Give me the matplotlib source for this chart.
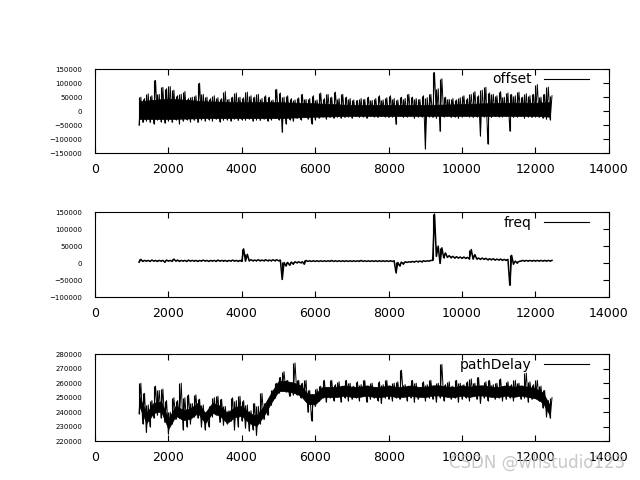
import numpy as np
import matplotlib
matplotlib.use("Agg")
import matplotlib.pyplot as plt

# samples every 100 units from 1200 to 12400, min / max of each step (in thousands)
x_start, x_step = 1200, 100

offset_hi = [50, 45, 62, 55, 110, 60, 85, 80, 88, 75,
             55, 60, 70, 45, 50, 55, 100, 60, 50, 45,
             55, 48, 45, 70, 42, 50, 65, 50, 48, 68,
             55, 50, 60, 45, 55, 50, 40, 78, 65, 50,
             55, 45, 40, 48, 60, 42, 45, 55, 40, 65,
             45, 60, 50, 68, 45, 60, 50, 45, 40, 38,
             45, 42, 50, 38, 45, 55, 40, 48, 55, 45,
             40, 50, 45, 60, 50, 45, 42, 55, 48, 60,
             138, 80, 116, 50, 42, 45, 40, 48, 55, 45,
             60, 70, 55, 75, 85, 65, 60, 55, 70, 50,
             65, 60, 55, 68, 50, 62, 55, 60, 95, 50,
             60, 86, 55]
offset_lo = [-50, -40, -35, -40, -45, -30, -38, -42, -35, -40,
             -30, -45, -35, -30, -38, -32, -40, -30, -35, -30,
             -35, -28, -38, -32, -30, -35, -28, -33, -30, -32,
             -28, -35, -30, -33, -28, -35, -30, -25, -30, -75,
             -45, -30, -35, -25, -30, -22, -28, -45, -30, -25,
             -20, -28, -22, -25, -20, -25, -22, -20, -25, -18,
             -22, -20, -25, -18, -20, -22, -18, -20, -22, -20,
             -47, -18, -22, -20, -18, -25, -20, -20, -134, -20,
             -22, -25, -72, -20, -18, -22, -20, -25, -20, -18,
             -20, -22, -20, -88, -20, -117, -22, -18, -20, -20,
             -18, -71, -22, -20, -18, -25, -20, -22, -20, -22,
             -25, -28, -30]
# solid middle of the offset band
offset_core_x = [1200, 2000, 3000, 4000, 5000, 6000, 7000, 8000, 9000,
                 10000, 11000, 12000, 12400]
offset_core_hi = [35, 45, 35, 32, 32, 28, 22, 22, 22, 25, 30, 30, 32]
offset_core_lo = [-28, -28, -25, -25, -25, -20, -17, -17, -17, -17, -17, -17, -20]

freq_hi = [11, 8, 8, 9, 8, 8, 8, 9, 8, 12,
           9, 8, 8, 9, 8, 8, 8, 9, 8, 8,
           8, 9, 8, 8, 8, 9, 8, 8, 42, 26,
           10, 9, 10, 9, 10, 9, 10, 10, 9, 2,
           2, 3, 4, 4, 4, 8, 7, 7, 7, 7,
           7, 7, 8, 7, 7, 7, 7, 7, 7, 7,
           8, 7, 7, 7, 7, 7, 7, 7, 7, 7,
           2, 3, 4, 4, 5, 6, 6, 7, 7, 8,
           144, 50, 45, 30, 22, 20, 19, 18, 18, 17,
           40, 25, 15, 15, 14, 13, 13, 12, 12, 11,
           11, 23, 6, 5, 8, 8, 8, 8, 8, 8,
           8, 8, 8]
freq_lo = [3, 5, 6, 5, 6, 5, 6, 3, 6, 5,
           6, 5, 6, 5, 6, 6, 5, 6, 6, 5,
           6, 5, 6, 6, 5, 6, 6, 5, 5, 6,
           7, 7, 7, 7, 7, 7, 7, 7, 7, -48,
           -8, -6, -3, 1, 1, -3, 5, 5, 5, 5,
           5, 5, 5, 5, 5, 5, 5, 5, 5, 5,
           5, 5, 5, 5, 5, 5, 5, 5, 5, 5,
           -28, -8, -3, 2, 3, 3, 4, 4, 5, 6,
           8, 20, -1, 16, 17, 16, 15, 15, 14, 14,
           12, 12, 12, 11, 11, 10, 10, 9, 9, 8,
           8, -65, -3, 0, 6, 6, 6, 6, 6, 6,
           6, 6, 6]

delay_hi = [260, 253, 245, 248, 258, 255, 256, 248, 240, 250,
            248, 260, 250, 252, 246, 252, 249, 245, 240, 244,
            250, 251, 249, 244, 241, 250, 248, 251, 248, 245,
            241, 246, 244, 253, 246, 248, 255, 260, 264, 268,
            262, 260, 274, 262, 260, 262, 255, 250, 256, 258,
            262, 256, 262, 259, 261, 258, 262, 260, 258, 261,
            259, 262, 258, 260, 257, 261, 259, 262, 258, 260,
            261, 269, 259, 258, 262, 260, 257, 261, 259, 262,
            258, 260, 273, 259, 261, 258, 262, 260, 259, 261,
            263, 260, 264, 258, 261, 262, 259, 260, 263, 258,
            261, 259, 262, 260, 258, 267, 261, 259, 262, 258,
            255, 248, 250]
delay_lo = [239, 232, 226, 230, 236, 238, 236, 233, 225, 232,
            235, 236, 228, 230, 232, 237, 236, 230, 228, 230,
            237, 238, 233, 231, 232, 234, 228, 230, 234, 229,
            227, 228, 224, 232, 235, 238, 245, 250, 253, 255,
            254, 251, 252, 252, 250, 251, 240, 234, 244, 248,
            250, 247, 250, 248, 251, 247, 250, 248, 249, 250,
            248, 251, 247, 249, 250, 248, 246, 250, 249, 248,
            250, 249, 251, 248, 250, 247, 249, 251, 248, 250,
            249, 247, 250, 248, 251, 249, 250, 247, 249, 250,
            248, 251, 249, 246, 250, 248, 251, 249, 250, 248,
            249, 250, 248, 251, 249, 250, 247, 249, 250, 248,
            243, 237, 236]
# running level of pathDelay, every 200 units from 1200
delay_mid = [248, 236, 243, 244, 232, 241, 238, 239, 243, 236,
             243, 241, 236, 240, 241, 236, 234, 241, 250, 258,
             258, 257, 255, 249, 249, 254, 254, 254, 255, 254,
             254, 255, 254, 254, 255, 254, 254, 255, 254, 254,
             255, 255, 254, 254, 255, 254, 255, 255, 254, 254,
             255, 254, 255, 254, 253, 250, 241]
delay_band = 3500  # half thickness of the solid part

series = [("offset", offset_hi, offset_lo, (-150000, 150000), 50000, 0.7),
          ("freq", freq_hi, freq_lo, (-100000, 150000), 50000, 1.1),
          ("pathDelay", delay_hi, delay_lo, (220000, 280000), 10000, 0.7)]

# axes boxes in figure fractions (gnuplot-ish multiplot)
boxes = [[0.1484, 0.681, 0.803, 0.175],
         [0.1484, 0.381, 0.803, 0.177],
         [0.1484, 0.081, 0.803, 0.181]]

fig = plt.figure(figsize=(6.4, 4.8), dpi=100)
axes = []

for (name, hi, lo, ylim, ystep, lw), box in zip(series, boxes):
    ax = fig.add_axes(box)
    axes.append(ax)
    x = x_start + x_step * np.arange(len(hi))
    hi = np.array(hi) * 1000.0
    lo = np.array(lo) * 1000.0
    # min of each step at its start, max half a step later
    xs = np.empty(2 * len(hi))
    xs[0::2] = x
    xs[1::2] = x + x_step / 2
    ys = np.empty(2 * len(hi))
    ys[0::2] = lo
    ys[1::2] = hi
    ax.vlines(x, lo, hi, color="black", lw=0.8)
    ax.plot(xs, ys, color="black", lw=lw)
    ax.plot([], [], color="black", lw=0.8, label=name)

    ax.set_xlim(0, 14000)
    ax.set_ylim(*ylim)
    ax.set_xticks(np.arange(0, 14001, 2000))
    ax.set_yticks(np.arange(ylim[0], ylim[1] + 1, ystep))
    ax.tick_params(axis="x", direction="in", length=4, top=True, labelsize=9, pad=7)
    ax.tick_params(axis="y", direction="in", length=4, left=False, right=True,
                   labelsize=5, pad=9)
    for sp in ax.spines.values():
        sp.set_linewidth(0.8)

    ax.legend(loc="upper right", bbox_to_anchor=(0.961, 0.96), frameon=False,
              markerfirst=False, handlelength=3.2, handletextpad=0.9,
              fontsize=10, borderpad=0, borderaxespad=0)

axes[0].fill_between(offset_core_x, np.array(offset_core_lo) * 1000.0,
                     np.array(offset_core_hi) * 1000.0, color="black", lw=0.5)

mid_x = x_start + 200 * np.arange(len(delay_mid))
mid = np.array(delay_mid) * 1000.0
axes[2].fill_between(mid_x, mid - delay_band, mid + delay_band, color="black", lw=0.5)

fig.text(0.977, 0.035, "CSDN @whstudio123", ha="right", va="center",
         fontsize=12, color="#bbbbbb", alpha=0.8)

fig.savefig("out.png", dpi=100)
